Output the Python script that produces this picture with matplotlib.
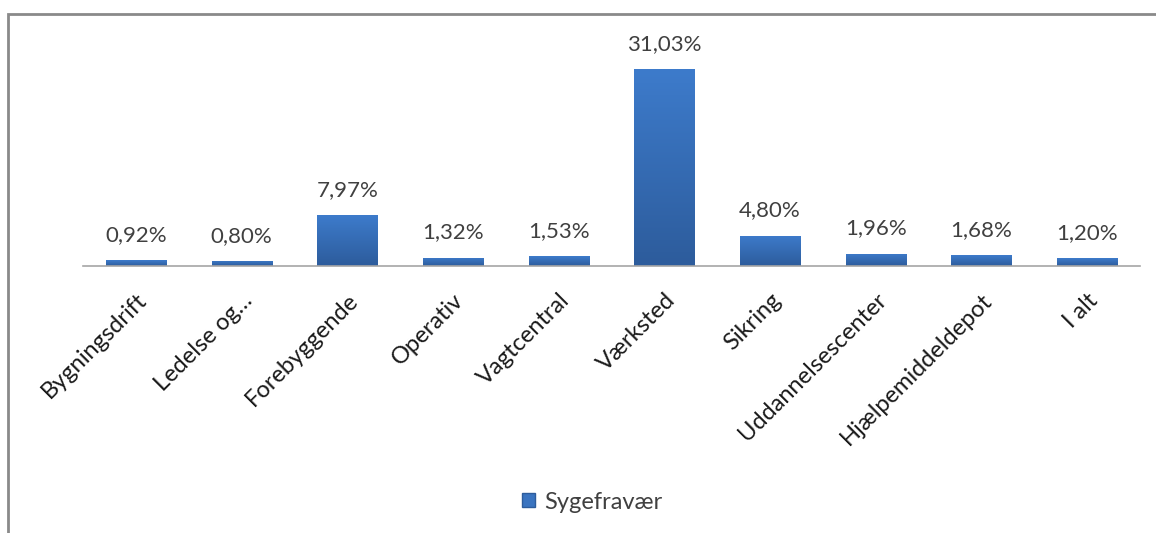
"""Sygefravær pr. afdeling — søjlediagram."""
import numpy as np
import matplotlib.pyplot as plt
from matplotlib.patches import Rectangle, Patch
from matplotlib.colors import LinearSegmentedColormap

categories = ["Bygningsdrift", "Ledelse og…", "Forebyggende", "Operativ", "Vagtcentral",
              "Værksted", "Sikring", "Uddannelsescenter", "Hjælpemiddeldepot", "I alt"]
values = [0.92, 0.80, 7.97, 1.32, 1.53, 31.03, 4.80, 1.96, 1.68, 1.20]
series_name = "Sygefravær"

plt.rcParams["font.family"] = ["Lato", "DejaVu Sans"]
TEXT = "#404040"
FS = 16

fig = plt.figure(figsize=(11.56, 5.33), dpi=100)
ax = fig.add_axes([0.072, 0.501, 0.914, 0.416])

x = np.arange(len(categories))
bars = ax.bar(x, values, width=0.57, color="#3a74c0", zorder=2)

# vertical gradient inside every bar
grad = LinearSegmentedColormap.from_list("g", ["#2d5c9c", "#3d7bcb"])
for b in bars:
    b.set_facecolor("none")
    im = ax.imshow(np.linspace(0, 1, 100).reshape(-1, 1), cmap=grad, origin="lower",
                   aspect="auto", extent=[b.get_x(), b.get_x() + b.get_width(), 0, b.get_height()],
                   zorder=2)
    im.set_clip_path(b)

for xi, v in zip(x, values):
    ax.annotate(f"{v:.2f}%".replace(".", ","), (xi, v), xytext=(0, 11), textcoords="offset points",
                ha="center", va="bottom", fontsize=FS, color=TEXT)

ax.set_xlim(-0.5, len(categories) - 0.5)
ax.set_ylim(0, 35)
ax.set_xticks(x)
ax.set_xticklabels(categories, rotation=45, ha="right", rotation_mode="anchor",
                   fontsize=17, color="#1a1a1a")
ax.tick_params(axis="x", length=0, pad=17)
ax.set_yticks([])
for s in ["top", "right", "left"]:
    ax.spines[s].set_visible(False)
ax.spines["bottom"].set_color("#a6a6a6")
ax.spines["bottom"].set_linewidth(1.2)

# legend at the bottom
fig.legend(handles=[Patch(facecolor="#3a74c0", edgecolor="#2d5c9c")], labels=[series_name],
           loc="center", bbox_to_anchor=(0.512, 0.058), frameon=False, fontsize=17,
           handlelength=0.55, handleheight=0.55, handletextpad=0.4, labelcolor=TEXT)

# chart frame (cropped at right and bottom)
fig.patches.append(Rectangle((8 / 1156, -0.2), 1.2, (533 - 14) / 533 + 0.2,
                             transform=fig.transFigure, fill=False,
                             edgecolor="#8a8a8a", linewidth=2.0))

fig.savefig("out.png", dpi=100)
